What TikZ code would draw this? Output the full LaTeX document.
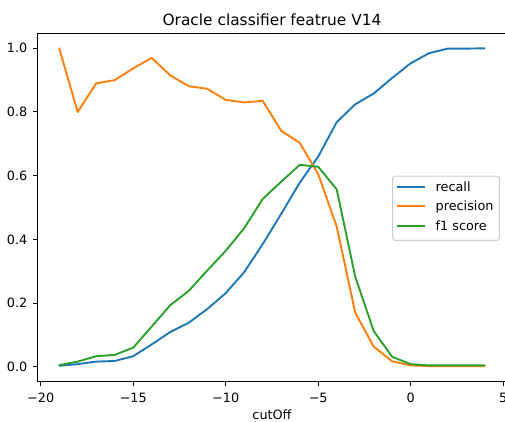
\documentclass[tikz,border=0pt]{standalone}
\usepackage{fontspec}
\setmainfont{DejaVu Sans}
\definecolor{tblue}{HTML}{1F77B4}
\definecolor{torange}{HTML}{FF7F0E}
\definecolor{tgreen}{HTML}{2CA02C}
\tikzset{
  spine/.style={line width=1pt, line cap=rect},
  tickmark/.style={line width=1pt},
  ticklab/.style={font=\fontsize{12.8}{15}\selectfont, inner sep=0pt},
  series/.style={line width=1.9pt, line join=round, line cap=round},
  legtext/.style={font=\fontsize{12.8}{15}\selectfont, inner sep=0pt, anchor=base west},
}
\begin{document}
\begin{tikzpicture}[x=1pt,y=1pt]
\useasboundingbox[fill=white] (0,0) rectangle (505,-421);
% axes frame
\draw[spine] (37.9,-381.5) -- (37.9,-33) -- (506,-33) -- (506,-381.5) -- cycle;
% x ticks
\foreach \v/\t [count=\i] in {-20/{−20},-15/{−15},-10/{−10},-5/{−5},0/{0},5/{5}}{
  \draw[tickmark] ({410.7+18.5*\v},-381.5) -- ({410.7+18.5*\v},-386);
  \node[ticklab, anchor=base] (xt\i) at ({410.7+18.5*\v},-402) {\t};
}
% y ticks
\foreach \v/\t [count=\i] in {0/0.0,0.2/0.2,0.4/0.4,0.6/0.6,0.8/0.8,1.0/1.0}{
  \draw[tickmark] (37.9,{-366.7+318.4*\v}) -- (33.4,{-366.7+318.4*\v});
  \node[ticklab, anchor=east] (yt\i) at (27.5,{-366.7+318.4*\v}) {\t};
}
\node[font=\fontsize{15.4}{18}\selectfont, inner sep=0pt, anchor=base] (title) at (272,-25) {Oracle classifier featrue V14};
\node[ticklab, anchor=base] (xlabel) at (272,-419) {cutOff};
% data
\begin{scope}[shift={(410.7,-366.7)}, x=18.5pt, y=318.4pt]
\draw[series, tblue] plot coordinates {(-19,0.003) (-18,0.008) (-17,0.016) (-16,0.018) (-15,0.033) (-14,0.070) (-13,0.109) (-12,0.138) (-11,0.181) (-10,0.231) (-9,0.297) (-8,0.385) (-7,0.48) (-6,0.578) (-5,0.66) (-4,0.768) (-3,0.824) (-2,0.858) (-1,0.907) (0,0.953) (1,0.985) (2,0.999) (3,0.999) (4,1.0)};
\draw[series, torange] plot coordinates {(-19,1.0) (-18,0.80) (-17,0.89) (-16,0.90) (-15,0.937) (-14,0.97) (-13,0.915) (-12,0.881) (-11,0.873) (-10,0.838) (-9,0.830) (-8,0.835) (-7,0.741) (-6,0.703) (-5,0.605) (-4,0.44) (-3,0.17) (-2,0.063) (-1,0.017) (0,0.004) (1,0.002) (2,0.002) (3,0.002) (4,0.002)};
\draw[series, tgreen] plot coordinates {(-19,0.005) (-18,0.016) (-17,0.033) (-16,0.037) (-15,0.060) (-14,0.126) (-13,0.193) (-12,0.238) (-11,0.302) (-10,0.364) (-9,0.435) (-8,0.527) (-7,0.581) (-6,0.634) (-5,0.628) (-4,0.557) (-3,0.283) (-2,0.112) (-1,0.031) (0,0.008) (1,0.004) (2,0.004) (3,0.004) (4,0.004)};
\end{scope}
% legend
\draw[fill=white, draw=black!20, line width=1pt, rounded corners=2.5pt] (392.7,-176) rectangle (499.3,-240.3);
\fill[tblue] (397.3,-185.7) rectangle (425,-187.7);
\node[legtext] (l1) at (435.5,-191.2) {recall};
\fill[torange] (397.3,-205.3) rectangle (425,-207.3);
\node[legtext] (l2) at (435.5,-210.8) {precision};
\fill[tgreen] (397.3,-224.5) rectangle (425,-226.5);
\node[legtext] (l3) at (435.5,-230) {f1 score};
\end{tikzpicture}
\end{document}
